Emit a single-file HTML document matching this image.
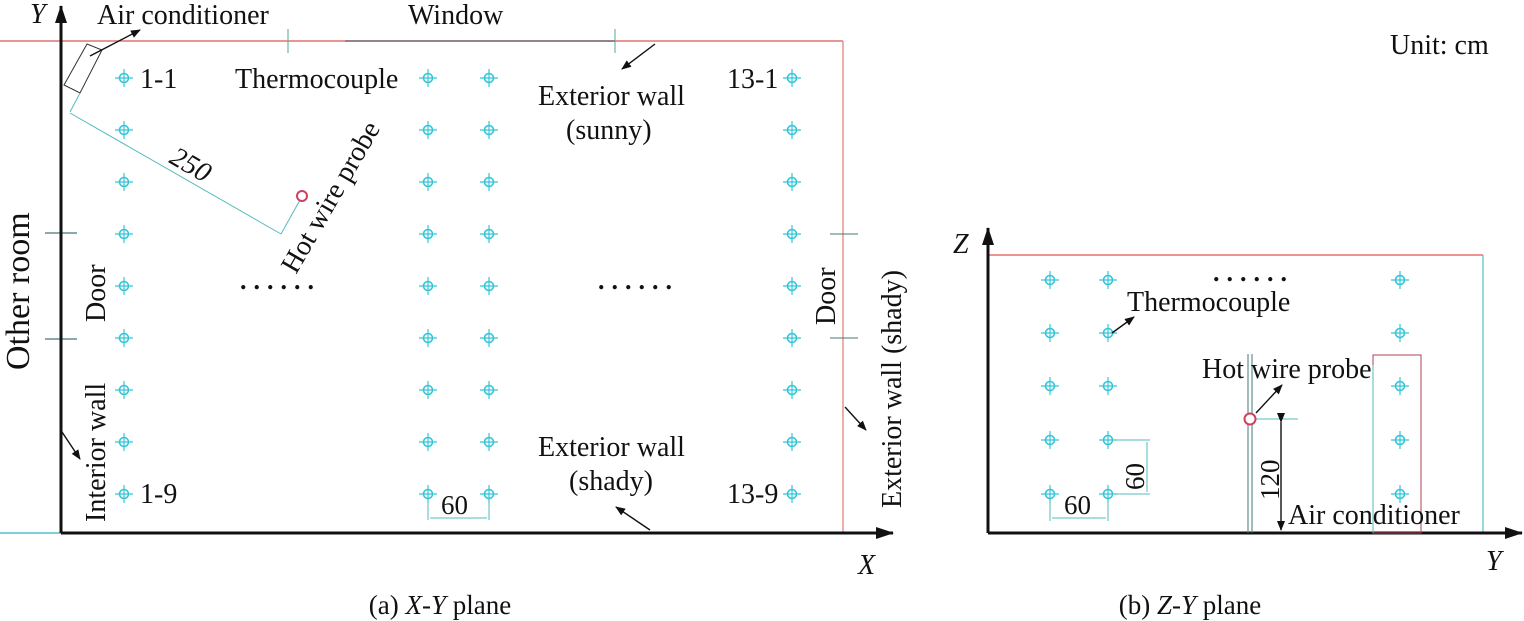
<!DOCTYPE html>
<html><head><meta charset="utf-8"><style>
html,body{margin:0;padding:0;background:#fff;}
svg{display:block;}
text{font-family:"Liberation Serif",serif;fill:#111;}
</style></head><body>
<svg width="1524" height="621" viewBox="0 0 1524 621" xmlns="http://www.w3.org/2000/svg">
<defs>
<g id="tc"><circle r="4.5" fill="none" stroke="#33c6d8" stroke-width="1.6"/><line x1="-9" y1="0" x2="9" y2="0" stroke="#33c6d8" stroke-width="1.2"/><line x1="0" y1="-9" x2="0" y2="9" stroke="#33c6d8" stroke-width="1.2"/></g>
<marker id="ah" markerWidth="10" markerHeight="8" refX="9" refY="4" orient="auto" markerUnits="userSpaceOnUse"><path d="M0,0 L10,4 L0,8 Z" fill="#111"/></marker>
<marker id="ahb" markerWidth="18" markerHeight="12" refX="17" refY="6" orient="auto" markerUnits="userSpaceOnUse"><path d="M0,0 L18,6 L0,12 Z" fill="#111"/></marker>
</defs>

<!-- (a) X-Y plane -->
<line x1="0" y1="41" x2="843" y2="41" stroke="#e05555" stroke-width="1.2"/>
<line x1="345" y1="41" x2="615" y2="41" stroke="#333" stroke-width="1"/>
<line x1="843" y1="41" x2="843" y2="533" stroke="#e07777" stroke-width="1.2"/>
<line x1="288" y1="29" x2="288" y2="53" stroke="#5a8" stroke-width="1"/>
<line x1="615" y1="29" x2="615" y2="53" stroke="#5a8" stroke-width="1"/>
<line x1="0" y1="533" x2="61" y2="533" stroke="#33b0c0" stroke-width="1.2"/>
<line x1="45" y1="233" x2="77" y2="233" stroke="#477" stroke-width="1.2"/>
<line x1="45" y1="339" x2="77" y2="339" stroke="#477" stroke-width="1.2"/>
<line x1="830" y1="234" x2="858" y2="234" stroke="#477" stroke-width="1"/>
<line x1="830" y1="338" x2="858" y2="338" stroke="#477" stroke-width="1"/>
<line x1="61" y1="533" x2="61" y2="6" stroke="#111" stroke-width="3" marker-end="url(#ahb)"/>
<line x1="61" y1="533" x2="893" y2="533" stroke="#111" stroke-width="3" marker-end="url(#ahb)"/>

<g>
<use href="#tc" x="124" y="78"/><use href="#tc" x="124" y="130"/><use href="#tc" x="124" y="182"/><use href="#tc" x="124" y="234"/><use href="#tc" x="124" y="286"/><use href="#tc" x="124" y="338"/><use href="#tc" x="124" y="390"/><use href="#tc" x="124" y="442"/><use href="#tc" x="124" y="494"/>
<use href="#tc" x="428" y="78"/><use href="#tc" x="428" y="130"/><use href="#tc" x="428" y="182"/><use href="#tc" x="428" y="234"/><use href="#tc" x="428" y="286"/><use href="#tc" x="428" y="338"/><use href="#tc" x="428" y="390"/><use href="#tc" x="428" y="442"/><use href="#tc" x="428" y="494"/>
<use href="#tc" x="489" y="78"/><use href="#tc" x="489" y="130"/><use href="#tc" x="489" y="182"/><use href="#tc" x="489" y="234"/><use href="#tc" x="489" y="286"/><use href="#tc" x="489" y="338"/><use href="#tc" x="489" y="390"/><use href="#tc" x="489" y="442"/><use href="#tc" x="489" y="494"/>
<use href="#tc" x="792" y="78"/><use href="#tc" x="792" y="130"/><use href="#tc" x="792" y="182"/><use href="#tc" x="792" y="234"/><use href="#tc" x="792" y="286"/><use href="#tc" x="792" y="338"/><use href="#tc" x="792" y="390"/><use href="#tc" x="792" y="442"/><use href="#tc" x="792" y="494"/>
</g>

<polygon points="64,85 87,44 102,50 80,93" fill="none" stroke="#333" stroke-width="1"/>
<line x1="90" y1="56" x2="140" y2="30" stroke="#111" stroke-width="1.4" marker-end="url(#ah)"/>
<line x1="80" y1="93" x2="70" y2="112" stroke="#5bb" stroke-width="1"/>
<line x1="70" y1="113" x2="281" y2="234" stroke="#5bb" stroke-width="1"/>
<line x1="281" y1="234" x2="300" y2="200" stroke="#5bb" stroke-width="1"/>
<circle cx="302" cy="196" r="5" fill="#fff" stroke="#d04060" stroke-width="2"/>
<text font-size="28" font-style="italic" transform="translate(168,162) rotate(30)">250</text>
<text font-size="28" transform="translate(296,275) rotate(-60)">Hot wire probe</text>

<text x="97" y="24" font-size="28">Air conditioner</text>
<text x="408" y="24" font-size="28">Window</text>
<text x="140" y="88" font-size="28">1-1</text>
<text x="235" y="88" font-size="28">Thermocouple</text>
<text x="727" y="88" font-size="28">13-1</text>
<text x="140" y="503" font-size="28">1-9</text>
<text x="727" y="503" font-size="28">13-9</text>
<text x="538" y="105" font-size="28">Exterior wall</text>
<text x="566" y="139" font-size="28">(sunny)</text>
<text x="538" y="456" font-size="28">Exterior wall</text>
<text x="569" y="490" font-size="28">(shady)</text>
<text x="1390" y="54" font-size="28">Unit: cm</text>
<text x="30" y="23" font-size="28" font-style="italic">Y</text>
<text x="858" y="574" font-size="28" font-style="italic">X</text>
<text x="240" y="289" font-size="26" font-weight="bold" letter-spacing="7">......</text>
<text x="598" y="289" font-size="26" font-weight="bold" letter-spacing="7">......</text>
<line x1="655" y1="44" x2="622" y2="69" stroke="#111" stroke-width="1.4" marker-end="url(#ah)"/>
<line x1="650" y1="530" x2="616" y2="507" stroke="#111" stroke-width="1.4" marker-end="url(#ah)"/>
<line x1="62" y1="432" x2="80" y2="459" stroke="#111" stroke-width="1.4" marker-end="url(#ah)"/>
<line x1="845" y1="407" x2="866" y2="430" stroke="#111" stroke-width="1.4" marker-end="url(#ah)"/>

<text transform="translate(29,370) rotate(-90)" font-size="34">Other room</text>
<text transform="translate(105,322) rotate(-90)" font-size="28">Door</text>
<text transform="translate(105,522) rotate(-90)" font-size="28">Interior wall</text>
<text transform="translate(835,325) rotate(-90)" font-size="28">Door</text>
<text transform="translate(901,508) rotate(-90)" font-size="28">Exterior wall (shady)</text>
<text x="440" y="614" font-size="27" text-anchor="middle">(a) <tspan font-style="italic">X</tspan>-<tspan font-style="italic">Y</tspan> plane</text>
<line x1="428" y1="500" x2="428" y2="520" stroke="#5bb" stroke-width="1"/>
<line x1="489" y1="500" x2="489" y2="520" stroke="#5bb" stroke-width="1"/>
<line x1="430" y1="518" x2="487" y2="518" stroke="#5bb" stroke-width="1"/>
<text x="441" y="514" font-size="27">60</text>

<!-- (b) Z-Y plane -->
<line x1="988" y1="255" x2="1483" y2="255" stroke="#e05555" stroke-width="1.2"/>
<line x1="1483" y1="255" x2="1483" y2="533" stroke="#55c0cc" stroke-width="1.2"/>
<line x1="988" y1="533" x2="988" y2="228" stroke="#111" stroke-width="3" marker-end="url(#ahb)"/>
<line x1="988" y1="533" x2="1522" y2="533" stroke="#111" stroke-width="3" marker-end="url(#ahb)"/>
<g>
<use href="#tc" x="1050" y="280"/><use href="#tc" x="1050" y="333"/><use href="#tc" x="1050" y="386"/><use href="#tc" x="1050" y="440"/><use href="#tc" x="1050" y="494"/>
<use href="#tc" x="1108" y="280"/><use href="#tc" x="1108" y="333"/><use href="#tc" x="1108" y="386"/><use href="#tc" x="1108" y="440"/><use href="#tc" x="1108" y="494"/>
<use href="#tc" x="1400" y="280"/><use href="#tc" x="1400" y="333"/><use href="#tc" x="1400" y="386"/><use href="#tc" x="1400" y="440"/><use href="#tc" x="1400" y="494"/>
</g>
<text x="1213" y="281" font-size="26" font-weight="bold" letter-spacing="7">......</text>
<text x="1127" y="311" font-size="28">Thermocouple</text>
<line x1="1112" y1="333" x2="1134" y2="317" stroke="#111" stroke-width="1.4" marker-end="url(#ah)"/>
<rect x="1373" y="355" width="48" height="178" fill="none" stroke="#b04050" stroke-width="1"/>
<line x1="1373" y1="365" x2="1373" y2="533" stroke="#5bb" stroke-width="1"/>
<line x1="1248" y1="354" x2="1248" y2="533" stroke="#477" stroke-width="1"/>
<line x1="1252" y1="354" x2="1252" y2="533" stroke="#477" stroke-width="1"/>
<line x1="1255" y1="419" x2="1298" y2="419" stroke="#5bb" stroke-width="1"/>
<circle cx="1250" cy="419" r="5.5" fill="#fff" stroke="#d04060" stroke-width="2"/>
<text x="1202" y="378" font-size="28">Hot wire probe</text>
<line x1="1256" y1="413" x2="1282" y2="385" stroke="#111" stroke-width="1.4" marker-end="url(#ah)"/>
<line x1="1281" y1="422" x2="1281" y2="530" stroke="#111" stroke-width="1.4" marker-end="url(#ah)" marker-start="url(#ah)"/>
<text transform="translate(1279,500) rotate(-90)" font-size="27">120</text>
<text x="1288" y="524" font-size="28">Air conditioner</text>
<line x1="1112" y1="440" x2="1150" y2="440" stroke="#5bb" stroke-width="1"/>
<line x1="1112" y1="494" x2="1150" y2="494" stroke="#5bb" stroke-width="1"/>
<line x1="1147" y1="442" x2="1147" y2="492" stroke="#5bb" stroke-width="1"/>
<text transform="translate(1144,490) rotate(-90)" font-size="27">60</text>
<line x1="1050" y1="500" x2="1050" y2="521" stroke="#5bb" stroke-width="1"/>
<line x1="1108" y1="500" x2="1108" y2="521" stroke="#5bb" stroke-width="1"/>
<line x1="1052" y1="518" x2="1106" y2="518" stroke="#5bb" stroke-width="1"/>
<text x="1064" y="514" font-size="27">60</text>
<text x="953" y="253" font-size="28" font-style="italic">Z</text>
<text x="1486" y="570" font-size="28" font-style="italic">Y</text>
<text x="1190" y="614" font-size="27" text-anchor="middle">(b) <tspan font-style="italic">Z</tspan>-<tspan font-style="italic">Y</tspan> plane</text>
</svg>
</body></html>
